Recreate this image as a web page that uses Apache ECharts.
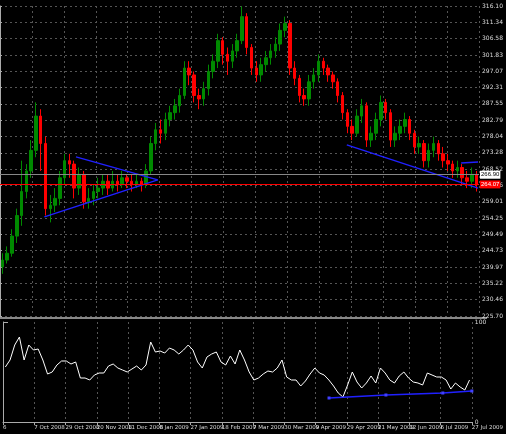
<!DOCTYPE html>
<html><head><meta charset="utf-8">
<script src="https://cdn.jsdelivr.net/npm/echarts@6/dist/echarts.min.js"></script>
<style>html,body{margin:0;background:#000}#main{width:506px;height:434px}</style>
</head><body><div id="main"></div>
<script>
// daily-ish bars
var opens  = [240,242,244,249,255,262,268,274,284,276,257,258,260,266,271,270,263,267,259,260,262,263,265,263,265,264,266,265,264,265,264,268,276,280,279,283,285,287,290,298,296,290,289,292,297,300,306,302,300,303,306,313,304,298,296,299,301,303,305,309,311,298,295,290,289,294,296,300,298,296,294,290,285,281,279,284,287,277,279,283,288,285,277,279,281,283,279,275,276,271,274,276,273,271,270,268,269,266,265,267]
var closes = [242,244,249,255,262,268,274,284,276,257,258,260,266,271,270,263,267,259,260,262,263,265,263,265,264,266,265,264,265,264,268,276,280,279,283,285,287,290,298,296,290,289,292,297,300,306,302,300,303,306,313,304,298,296,299,301,303,305,309,311,298,295,290,289,294,296,300,298,296,294,290,285,281,279,284,287,277,279,283,288,285,277,279,281,283,279,275,276,271,274,276,273,271,270,268,269,266,265,267,264]
var lows   = [238,241,243,247,252,260,266,272,268,255,253,256,258,264,266,260,261,257,257,258,260,261,261,262,262,263,263,262,263,262,263,267,274,276,277,281,283,285,289,293,288,286,287,290,295,298,299,296,298,301,305,302,296,294,294,297,299,301,303,307,296,293,288,287,287,292,294,296,294,292,288,283,279,277,278,282,275,275,277,281,283,275,275,277,279,277,273,273,269,269,272,271,269,268,266,266,264,263,263,262]
var highs  = [244,246,251,257,271,270,277,288,286,278,261,263,268,273,273,271,269,268,263,264,266,267,267,268,267,268,267,267,267,266,270,278,282,283,285,287,289,292,300,300,297,292,294,299,302,308,307,304,305,308,316,314,305,300,301,303,305,307,311,313,312,300,296,292,296,298,302,301,299,297,295,291,286,283,286,289,288,281,285,290,289,286,281,283,285,284,280,278,277,276,278,277,275,273,271,271,270,268,269,268]
var osc = [55,62,77,85,62,77,72,73,62,48,50,57,61,61,58,60,44,44,42,47,49,49,56,58,54,52,50,53,56,52,57,80,70,71,69,74,72,68,72,77,72,60,54,65,68,70,60,57,66,58,72,62,50,42,44,48,51,50,54,62,45,42,42,36,41,48,54,49,47,42,36,29,25,37,50,40,34,39,46,39,54,49,42,39,46,50,44,40,39,37,49,47,45,45,42,33,39,35,32,42]
var dateLabels = ['6','7 Oct 2008','29 Oct 2008','20 Nov 2008','11 Dec 2008','6 Jan 2009','27 Jan 2009','18 Feb 2009','7 Mar 2009','30 Mar 2009','9 Apr 2009','29 Apr 2009','21 May 2009','12 Jun 2009','6 Jul 2009','27 Jul 2009']
// trendlines in date-axis units / price
var triUpper = [[2.38,272.1],[4.94,265.4]]
var triLower = [[1.39,254.6],[4.94,265.4]]
var rightLower = [[10.86,275.6],[14.97,263.0]]
var rightUpper = [[14.44,270.3],[14.97,270.6]]
var oscLine = [[10.43,24],[12.25,27],[14.07,29],[15,31]]
var bidPrice = 264.07, askPrice = 266.9

var cats = closes.map(function(_, i){ return i })
var ohlc = closes.map(function(c, i){ return [opens[i], c, lows[i], highs[i]] })
var dash = {color:'#555', type:[2,3], width:1}
var lbl = {color:'#ddd', fontSize:6, fontFamily:'DejaVu Sans'}

var chart = echarts.init(document.getElementById('main'))
chart.setOption({
  backgroundColor:'#000', animation:false,
  grid:[{left:0,right:19,top:6,height:310},{left:0,right:19,top:322,height:100}],
  xAxis:[
    {type:'category',gridIndex:0,data:cats,show:false},
    {type:'value',gridIndex:0,position:'bottom',min:0,max:15,interval:1,axisLabel:{show:false},axisLine:{show:false},axisTick:{show:false},splitLine:{lineStyle:dash}},
    {type:'category',gridIndex:1,data:cats,show:false,position:'top'},
    {type:'value',gridIndex:1,position:'bottom',min:0,max:15,interval:1,axisLine:{onZero:false,lineStyle:{color:'#aaa'}},axisTick:{show:true,length:3,lineStyle:{color:'#aaa'}},splitLine:{lineStyle:dash},
     axisLabel:Object.assign({align:'left',margin:3,showMaxLabel:true,formatter:function(v){return dateLabels[v]||''}},lbl,{fontSize:5.5})}
  ],
  yAxis:[
    {type:'value',gridIndex:0,position:'right',min:225.7,max:316.1,interval:(316.1-225.7)/19,
     axisLine:{show:true,lineStyle:{color:'#aaa'}},axisTick:{show:true,length:2},splitLine:{lineStyle:dash},
     axisLabel:Object.assign({margin:3,formatter:function(v){return v.toFixed(2)}},lbl)},
    {type:'value',gridIndex:1,position:'right',min:0,max:100,interval:100,
     axisLine:{show:true,lineStyle:{color:'#aaa'}},splitLine:{show:false},axisLabel:Object.assign({margin:3},lbl)}
  ],
  graphic:[{type:'rect',shape:{x:0,y:317,width:487,height:2},style:{fill:'#888'}}],
  series:[
    {type:'candlestick',xAxisIndex:0,yAxisIndex:0,data:ohlc,barWidth:3,
     itemStyle:{color:'#008a00',color0:'#ff0000',borderColor:'#008a00',borderColor0:'#ff0000',borderWidth:1},
     markLine:{symbol:'none',silent:true,data:[
       {yAxis:bidPrice,lineStyle:{color:'#ff0000',type:'solid',width:1},label:{position:'end',formatter:bidPrice.toFixed(2),backgroundColor:'#ff0000',color:'#fff',fontSize:6,padding:[1,1],distance:1}},
       {yAxis:askPrice,lineStyle:{color:'#888',type:'solid',width:1},label:{position:'end',formatter:askPrice.toFixed(2),backgroundColor:'#fff',color:'#000',fontSize:6,padding:[1,1],distance:1}}]}},
    {type:'line',xAxisIndex:1,yAxisIndex:0,data:triUpper,symbol:'none',lineStyle:{color:'#2020ff',width:1.5}},
    {type:'line',xAxisIndex:1,yAxisIndex:0,data:triLower,symbol:'none',lineStyle:{color:'#2020ff',width:1.5}},
    {type:'line',xAxisIndex:1,yAxisIndex:0,data:rightLower,symbol:'none',lineStyle:{color:'#2020ff',width:1.5}},
    {type:'line',xAxisIndex:1,yAxisIndex:0,data:rightUpper,symbol:'none',lineStyle:{color:'#2020ff',width:1.5}},
    {type:'line',xAxisIndex:2,yAxisIndex:1,data:osc,symbol:'none',lineStyle:{color:'#fff',width:1}},
    {type:'line',xAxisIndex:3,yAxisIndex:1,data:oscLine,symbol:'rect',symbolSize:3,itemStyle:{color:'#4040ff'},lineStyle:{color:'#2020ff',width:1.5}}
  ]
})
</script></body></html>
